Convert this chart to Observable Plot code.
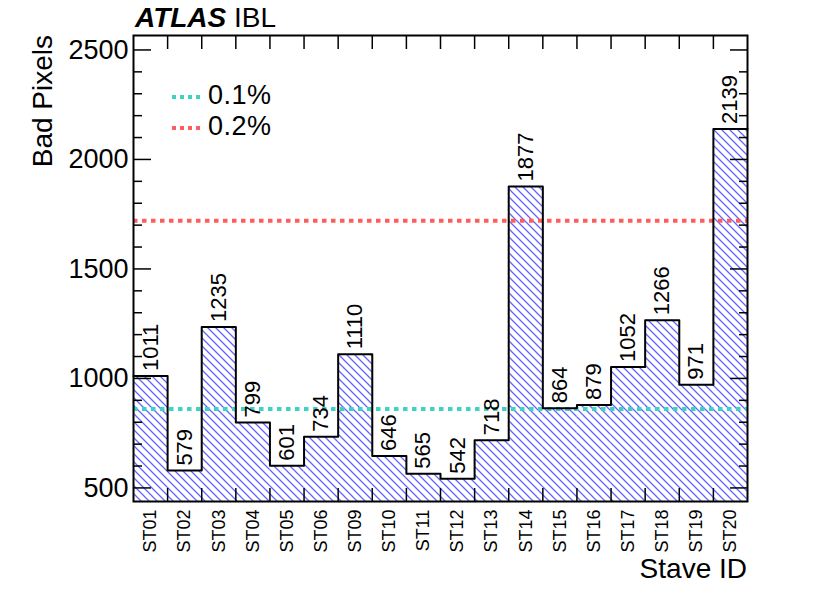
<!DOCTYPE html>
<html><head><meta charset="utf-8">
<script src="https://cdn.jsdelivr.net/npm/d3@7"></script>
<script src="https://cdn.jsdelivr.net/npm/@observablehq/plot@0.6"></script>
<style>
body{margin:0;background:#fff;}
#wrap{position:relative;width:830px;height:596px;}
</style></head><body><div id="wrap"></div>
<script>
const staves = ["ST01","ST02","ST03","ST04","ST05","ST06","ST09","ST10","ST11","ST12","ST13","ST14","ST15","ST16","ST17","ST18","ST19","ST20"];
const badPixels = [1011,579,1235,799,601,734,1110,646,565,542,718,1877,864,879,1052,1266,971,2139];
const pixelsPerStave = 860160;
const thresholdLabels = ["0.1%","0.2%"];
const thresholdFractions = [0.001,0.002];
const thresholdColors = ["#3ed2c2","#ff5c5c"];
const yMajorTicks = [500,1000,1500,2000,2500];
const yMinorTicks = [600,700,800,900,1100,1200,1300,1400,1600,1700,1800,1900,2100,2200,2300,2400];
const yDomain = [438, 2566];

const FONT = "'Liberation Sans', Arial, Helvetica, sans-serif";
const bins = staves.map((s,i)=>({stave:s, x1:i, x2:i+1, xc:i+0.5, value:badPixels[i]}));
const stepPts = bins.map(d=>({x:d.x1, y:d.value})).concat([{x:bins.length, y:badPixels[badPixels.length-1]}]);
const edges = d3.range(1, staves.length);
const thresholds = thresholdFractions.map((f,i)=>({label:thresholdLabels[i], value:f*pixelsPerStave, color:thresholdColors[i]}));
const blank = () => "";

const svg = Plot.plot({
  width: 830, height: 596,
  marginLeft: 133, marginRight: 83, marginTop: 35, marginBottom: 95,
  style: {fontFamily: FONT, background: "#fff", color: "#000"},
  x: {type: "linear", domain: [0, staves.length], label: null},
  y: {domain: yDomain, label: null},
  marks: [
    Plot.rect(bins, {x1:"x1", x2:"x2", y1: yDomain[0], y2:"value", fill:"url(#hatch)", clip:true}),
    ...thresholds.map(t => Plot.ruleY([t.value], {stroke: t.color, strokeWidth: 4, strokeDasharray: "4.5,4.5"})),
    Plot.line(stepPts, {x:"x", y:"y", curve:"step-after", stroke:"#000", strokeWidth:2}),
    Plot.text(bins, {x:"xc", y:"value", text: d => String(d.value), rotate:-90, textAnchor:"start", lineAnchor:"middle", dy:-5, fontSize:22, fill:"#000", style:{letterSpacing:"0.5px"}}),
    Plot.text(bins, {x:"xc", text:"stave", frameAnchor:"bottom", rotate:-90, textAnchor:"end", lineAnchor:"middle", dy:8, fontSize:18, fill:"#000"}),
    Plot.axisY(yMajorTicks, {anchor:"left", tickSize:-18, tickFormat: blank, label:null, strokeWidth:1.5}),
    Plot.axisY(yMinorTicks, {anchor:"left", tickSize:-9, tickFormat: blank, label:null, strokeWidth:1.5}),
    Plot.axisY(yMajorTicks, {anchor:"right", tickSize:-18, tickFormat: blank, label:null, strokeWidth:1.5}),
    Plot.axisY(yMinorTicks, {anchor:"right", tickSize:-9, tickFormat: blank, label:null, strokeWidth:1.5}),
    Plot.axisY(yMajorTicks, {anchor:"left", tickSize:0, tickPadding:5, fontSize:27, label:null, tickFormat: d => String(d)}),
    Plot.axisX(edges, {anchor:"bottom", tickSize:-13, tickFormat: blank, label:null, strokeWidth:1.5}),
    Plot.axisX(edges, {anchor:"top", tickSize:-13, tickFormat: blank, label:null, strokeWidth:1.5}),
    Plot.frame({stroke:"#000", strokeWidth:2})
  ]
});

const s = d3.select(svg);
const defs = s.insert("defs", ":first-child");
const pat = defs.append("pattern").attr("id","hatch").attr("patternUnits","userSpaceOnUse").attr("width",8).attr("height",8);
pat.append("path").attr("d","M-1,-1 L9,9 M-1,7 L1,9 M7,-1 L9,1").attr("stroke","#6464ff").attr("stroke-width",1.3).attr("fill","none");

// title
const title = s.append("text").attr("x",135).attr("y",27).attr("text-anchor","start").attr("font-size",28).attr("fill","#000").style("font-family",FONT);
title.append("tspan").attr("font-weight","bold").attr("font-style","italic").text("ATLAS");
title.append("tspan").text(" IBL");
// axis titles
s.append("text").attr("transform","translate(52,35) rotate(-90)").attr("text-anchor","end").attr("font-size",28).attr("fill","#000").style("font-family",FONT).text("Bad Pixels");
s.append("text").attr("x",747).attr("y",578).attr("text-anchor","end").attr("font-size",28).attr("fill","#000").style("font-family",FONT).text("Stave ID");
// legend
thresholds.forEach((t,i) => {
  const y = 97 + i*31;
  s.append("line").attr("x1",172).attr("x2",201).attr("y1",y).attr("y2",y).attr("stroke",t.color).attr("stroke-width",4).attr("stroke-dasharray","4,4");
  s.append("text").attr("x",208).attr("y",y+7).attr("text-anchor","start").attr("font-size",27).attr("fill","#000").style("font-family",FONT).style("letter-spacing","0.5px").text(t.label);
});

document.getElementById("wrap").appendChild(svg);
</script></body></html>
